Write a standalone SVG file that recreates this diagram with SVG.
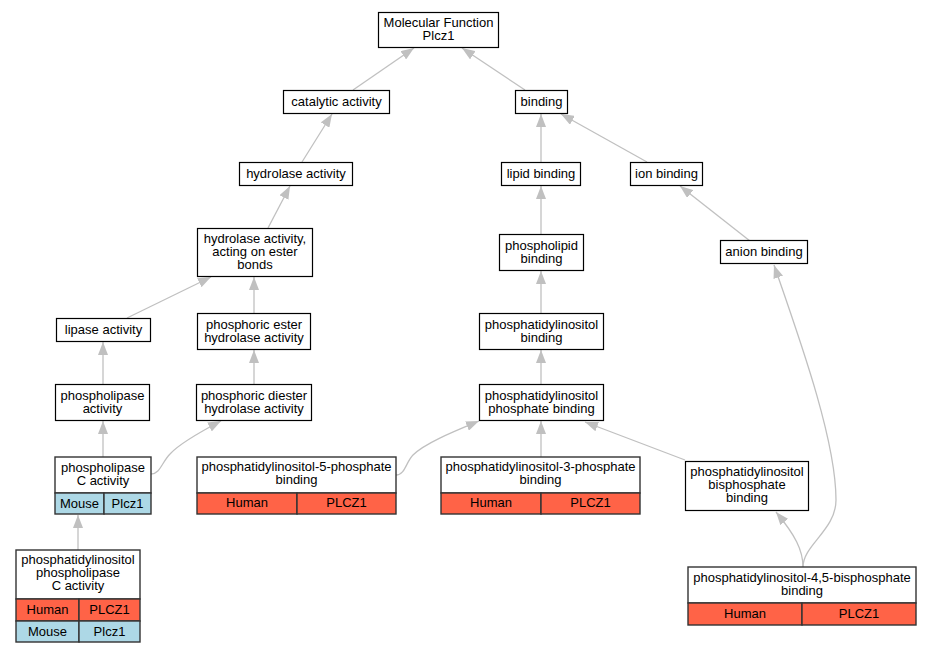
<svg xmlns="http://www.w3.org/2000/svg" width="931" height="653" viewBox="0 0 931 653">
<defs>
<marker id="arr" markerUnits="userSpaceOnUse" markerWidth="14" markerHeight="10" refX="13" refY="5" orient="auto">
<path d="M0,0 L13,5 L0,10 z" fill="#c0c0c0"/>
</marker>
<style>
.n{fill:#fff;stroke:#000;stroke-width:1.2}
.t{fill:#fff;stroke:#333;stroke-width:1.4}
.r{fill:#ff6347;stroke:#333;stroke-width:1.4}
.b{fill:#add8e6;stroke:#333;stroke-width:1.4}
text{font-family:"Liberation Sans",Arial,sans-serif;font-size:13px;fill:#000;text-anchor:middle}
.e path{fill:none;stroke:#c0c0c0;stroke-width:1.3;marker-end:url(#arr)}
</style>
</defs>
<rect width="931" height="653" fill="#fff"/>
<g class="e" id="connectors">
<path d="M353,90 L414,48"/>
<path d="M525,90 L462,48"/>
<path d="M302,162 L332,114"/>
<path d="M268,228 L290,186"/>
<path d="M541,162 L541,114"/>
<path d="M647,162 L561,114"/>
<path d="M541,234 L541,186"/>
<path d="M750,241 L680,186"/>
<path d="M127,318 L211,277"/>
<path d="M254,313 L254,277"/>
<path d="M541,313 L541,271"/>
<path d="M103,384 L103,342"/>
<path d="M254,384 L254,350"/>
<path d="M541,384 L541,350"/>
<path d="M103,457 L103,421"/>
<path d="M151,474 C160,474 162,462 170,454 C180,443 200,432 221,421"/>
<path d="M396,475 C405,475 406,462 413,455 C425,443 455,431 479,421"/>
<path d="M541,457 L541,421"/>
<path d="M685,460 L585,422"/>
<path d="M803,567 C803,550 795,535 776,512"/>
<path d="M803,567 C803,545 836,530 836,500 C836,440 800,340 774,265"/>
<path d="M78,550 L78,515"/>
</g>
<g id="mf"><rect class="n" x="378.5" y="12.5" width="120" height="35"/><text x="438.5" y="27">Molecular Function</text><text x="438.5" y="40">Plcz1</text></g>
<g id="catalytic"><rect class="n" x="283.5" y="90.5" width="106" height="23"/><text x="336.5" y="106">catalytic activity</text></g>
<g id="binding"><rect class="n" x="515.5" y="90.5" width="52" height="23"/><text x="541.5" y="106">binding</text></g>
<g id="hydrolase"><rect class="n" x="239.5" y="162.5" width="113" height="23"/><text x="296" y="178">hydrolase activity</text></g>
<g id="lipidbinding"><rect class="n" x="501.5" y="162.5" width="79" height="23"/><text x="541" y="178">lipid binding</text></g>
<g id="ionbinding"><rect class="n" x="630.5" y="162.5" width="72" height="23"/><text x="666.5" y="178">ion binding</text></g>
<g id="hydester"><rect class="n" x="197.5" y="228.5" width="115" height="48"/><text x="255" y="243">hydrolase activity,</text><text x="255" y="256">acting on ester</text><text x="255" y="269">bonds</text></g>
<g id="phospholipidbinding"><rect class="n" x="499.5" y="234.5" width="84" height="36"/><text x="541.5" y="250">phospholipid</text><text x="541.5" y="263">binding</text></g>
<g id="anionbinding"><rect class="n" x="720.5" y="240.5" width="87" height="23"/><text x="764" y="256">anion binding</text></g>
<g id="lipase"><rect class="n" x="56.5" y="318.5" width="94" height="23"/><text x="103.5" y="334">lipase activity</text></g>
<g id="phosester"><rect class="n" x="197.5" y="313.5" width="113" height="36"/><text x="254" y="329">phosphoric ester</text><text x="254" y="342">hydrolase activity</text></g>
<g id="pibinding"><rect class="n" x="479.5" y="313.5" width="124" height="36"/><text x="541.5" y="329">phosphatidylinositol</text><text x="541.5" y="342">binding</text></g>
<g id="phospholipase"><rect class="n" x="55.5" y="384.5" width="94" height="36"/><text x="102.5" y="400">phospholipase</text><text x="102.5" y="413">activity</text></g>
<g id="phosdiester"><rect class="n" x="196.5" y="384.5" width="115" height="36"/><text x="254" y="400">phosphoric diester</text><text x="254" y="413">hydrolase activity</text></g>
<g id="pipbinding"><rect class="n" x="479.5" y="384.5" width="124" height="36"/><text x="541.5" y="400">phosphatidylinositol</text><text x="541.5" y="413">phosphate binding</text></g>
<g id="plc">
<rect class="t" x="55" y="457" width="96" height="36"/>
<rect class="b" x="55" y="493" width="49" height="21"/><rect class="b" x="104" y="493" width="47" height="21"/>
<text x="103" y="472">phospholipase</text><text x="103" y="485">C activity</text>
<text x="79.5" y="508">Mouse</text><text x="127.5" y="508">Plcz1</text>
</g>
<g id="pi5p">
<rect class="t" x="197" y="457" width="199" height="36"/>
<rect class="r" x="197" y="493" width="100" height="21"/><rect class="r" x="297" y="493" width="99" height="21"/>
<text x="296.5" y="471">phosphatidylinositol-5-phosphate</text><text x="296.5" y="484">binding</text>
<text x="247" y="507">Human</text><text x="346.5" y="507">PLCZ1</text>
</g>
<g id="pi3p">
<rect class="t" x="441" y="457" width="199" height="36"/>
<rect class="r" x="441" y="493" width="100" height="21"/><rect class="r" x="541" y="493" width="99" height="21"/>
<text x="540.5" y="471">phosphatidylinositol-3-phosphate</text><text x="540.5" y="484">binding</text>
<text x="491" y="507">Human</text><text x="590.5" y="507">PLCZ1</text>
</g>
<g id="pibisp"><rect class="n" x="685.5" y="461.5" width="123" height="49"/><text x="747" y="476">phosphatidylinositol</text><text x="747" y="489">bisphosphate</text><text x="747" y="502">binding</text></g>
<g id="pi45p2">
<rect class="t" x="688" y="567" width="228" height="36"/>
<rect class="r" x="688" y="603" width="114" height="22"/><rect class="r" x="802" y="603" width="114" height="22"/>
<text x="802" y="582">phosphatidylinositol-4,5-bisphosphate</text><text x="802" y="595">binding</text>
<text x="745" y="618">Human</text><text x="859" y="618">PLCZ1</text>
</g>
<g id="piplc">
<rect class="t" x="16" y="550" width="124" height="49"/>
<rect class="r" x="16" y="599" width="63" height="22"/><rect class="r" x="79" y="599" width="61" height="22"/>
<rect class="b" x="16" y="621" width="63" height="21"/><rect class="b" x="79" y="621" width="61" height="21"/>
<text x="78" y="564">phosphatidylinositol</text><text x="78" y="577">phospholipase</text><text x="78" y="590">C activity</text>
<text x="47.5" y="614">Human</text><text x="109.5" y="614">PLCZ1</text>
<text x="47.5" y="636">Mouse</text><text x="109.5" y="636">Plcz1</text>
</g>
</svg>
